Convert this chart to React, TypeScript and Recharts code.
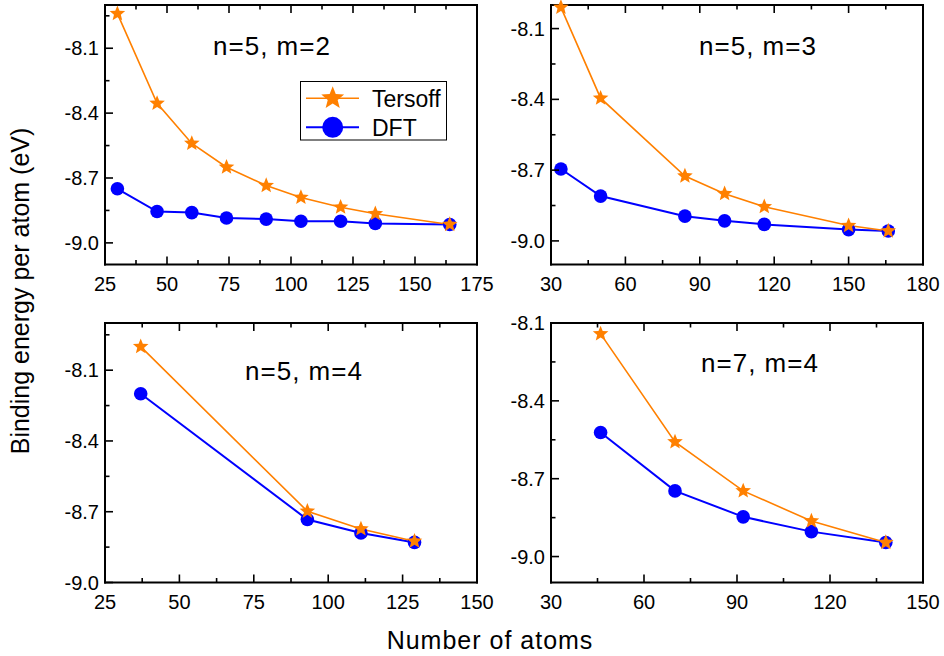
import React from "react";
import { LineChart, Line, XAxis, YAxis } from "recharts";

// Binding energy per atom (eV) vs number of atoms, four (n,m) families
const p1Atoms = [30, 46, 60, 74, 90, 104, 120, 134, 164];
const p1Tersoff = [-7.94, -8.355, -8.54, -8.65, -8.735, -8.79, -8.835, -8.865, -8.915];
const p1Dft = [-8.75, -8.855, -8.86, -8.885, -8.89, -8.9, -8.9, -8.91, -8.915];

const p2Atoms = [34, 50, 84, 100, 116, 150, 166];
const p2Tersoff = [-8.01, -8.395, -8.725, -8.8, -8.855, -8.935, -8.958];
const p2Dft = [-8.695, -8.81, -8.895, -8.915, -8.93, -8.952, -8.958];

const p3Atoms = [37, 93, 111, 129];
const p3Tersoff = [-8.0, -8.698, -8.773, -8.825];
const p3Dft = [-8.2, -8.733, -8.79, -8.83];

const p4Atoms = [46, 70, 92, 114, 138];
const p4Tersoff = [-8.142, -8.558, -8.747, -8.863, -8.946];
const p4Dft = [-8.522, -8.747, -8.847, -8.904, -8.946];

const panelTitles = ["n=5, m=2", "n=5, m=3", "n=5, m=4", "n=7, m=4"];

const x25Major = [25, 50, 75, 100, 125, 150, 175];
const x25Minor = [37.5, 62.5, 87.5, 112.5, 137.5, 162.5];
const x30Major = [30, 60, 90, 120, 150, 180];
const x30Minor = [45, 75, 105, 135, 165];
const yMajor = [-9.0, -8.7, -8.4, -8.1];
const yMinor = [-8.85, -8.55, -8.25, -7.95];

const ORANGE = "#ff8000";
const BLUE = "#0000ff";
const FONT = '"Liberation Sans", Arial, Helvetica, sans-serif';

// axis box sizes around each plot area
const AX_L = 60;
const AX_R = 21;
const AX_T = 15;
const AX_B = 40;

function starPath(cx: number, cy: number, R: number, r: number) {
  const pts: string[] = [];
  for (let i = 0; i < 10; i++) {
    const rad = i % 2 === 0 ? R : r;
    const a = -Math.PI / 2 + (i * Math.PI) / 5;
    pts.push(`${(cx + rad * Math.cos(a)).toFixed(2)},${(cy + rad * Math.sin(a)).toFixed(2)}`);
  }
  return `M${pts.join("L")}Z`;
}

type Side = "bottom" | "top" | "left" | "right";

function makeTick(side: Side, majors: number[], fmt: (v: number) => string) {
  return (props: any) => {
    const { x, y, payload } = props;
    const v = payload.value as number;
    const major = majors.some((m) => Math.abs(m - v) < 1e-6);
    const len = major ? 8 : 4.5;
    const tl = { stroke: "#000", strokeWidth: 1.6 };
    if (side === "bottom")
      return (
        <g>
          <line x1={x} y1={y} x2={x} y2={y - len} {...tl} />
          {major && (
            <text x={x} y={y + 26} textAnchor="middle" fontSize={20} fontFamily={FONT} fill="#000">
              {fmt(v)}
            </text>
          )}
        </g>
      );
    if (side === "left")
      return (
        <g>
          <line x1={x} y1={y} x2={x + len} y2={y} {...tl} />
          {major && (
            <text x={x - 6} y={y + 7} textAnchor="end" fontSize={20} fontFamily={FONT} fill="#000">
              {fmt(v)}
            </text>
          )}
        </g>
      );
    if (side === "top") return <line x1={x} y1={y} x2={x} y2={y + len} {...tl} />;
    return <line x1={x} y1={y} x2={x - len} y2={y} {...tl} />;
  };
}

const fmtX = (v: number) => String(v);
const fmtY = (v: number) => v.toFixed(1);

interface PanelProps {
  atoms: number[];
  tersoff: number[];
  dft: number[];
  xDomain: [number, number];
  xMajor: number[];
  xMinor: number[];
  yDomain: [number, number];
  left: number;
  top: number;
  width: number;
  height: number;
}

function Panel({ atoms, tersoff, dft, xDomain, xMajor, xMinor, yDomain, left, top, width, height }: PanelProps) {
  const data = atoms.map((n, i) => ({ n, tersoff: tersoff[i], dft: dft[i] }));
  const inX = (v: number) => v >= xDomain[0] - 1e-9 && v <= xDomain[1] + 1e-9;
  const inY = (v: number) => v >= yDomain[0] - 1e-9 && v <= yDomain[1] + 1e-9;
  const xMaj = xMajor.filter(inX);
  const xTicks = [...xMaj, ...xMinor.filter(inX)];
  const yMaj = yMajor.filter(inY);
  const yTicks = [...yMaj, ...yMinor.filter(inY)];
  const axisLine = { stroke: "#000", strokeWidth: 2, strokeLinecap: "square" as const };
  const common = { tickSize: 0, tickMargin: 0, tickLine: false, interval: 0 as const, axisLine };

  return (
    <div style={{ position: "absolute", left: left - AX_L, top: top - AX_T }}>
      <LineChart
        width={width + AX_L + AX_R}
        height={height + AX_T + AX_B}
        data={data}
        margin={{ top: 0, right: 0, bottom: 0, left: 0 }}
      >
        <XAxis
          xAxisId="b"
          dataKey="n"
          type="number"
          domain={xDomain}
          ticks={xTicks}
          height={AX_B}
          tick={makeTick("bottom", xMaj, fmtX)}
          {...common}
        />
        <XAxis
          xAxisId="t"
          orientation="top"
          dataKey="n"
          type="number"
          domain={xDomain}
          ticks={xTicks}
          height={AX_T}
          tick={makeTick("top", xMaj, fmtX)}
          {...common}
        />
        <YAxis
          yAxisId="l"
          type="number"
          domain={yDomain}
          ticks={yTicks}
          width={AX_L}
          tick={makeTick("left", yMaj, fmtY)}
          {...common}
        />
        <YAxis
          yAxisId="r"
          orientation="right"
          type="number"
          domain={yDomain}
          ticks={yTicks}
          width={AX_R}
          tick={makeTick("right", yMaj, fmtY)}
          {...common}
        />
        <Line
          xAxisId="b"
          yAxisId="l"
          dataKey="dft"
          type="linear"
          stroke={BLUE}
          strokeWidth={2}
          isAnimationActive={false}
          activeDot={false}
          dot={(p: any) => <circle key={`d${p.index}`} cx={p.cx} cy={p.cy} r={6.8} fill={BLUE} />}
        />
        <Line
          xAxisId="b"
          yAxisId="l"
          dataKey="tersoff"
          type="linear"
          stroke={ORANGE}
          strokeWidth={1.6}
          isAnimationActive={false}
          activeDot={false}
          dot={(p: any) => <path key={`t${p.index}`} d={starPath(p.cx, p.cy, 8.2, 3.6)} fill={ORANGE} />}
        />
      </LineChart>
    </div>
  );
}

export default function App() {
  return (
    <div style={{ position: "absolute", left: 0, top: 0, width: 944, height: 656, background: "#fff", overflow: "hidden" }}>
      <Panel atoms={p1Atoms} tersoff={p1Tersoff} dft={p1Dft} xDomain={[25, 175]} xMajor={x25Major}
        xMinor={x25Minor} yDomain={[-9.1, -7.9]} left={105} top={5} width={372} height={259.5} />
      <Panel atoms={p2Atoms} tersoff={p2Tersoff} dft={p2Dft} xDomain={[30, 180]} xMajor={x30Major}
        xMinor={x30Minor} yDomain={[-9.1, -8.0]} left={551} top={5} width={372} height={259.5} />
      <Panel atoms={p3Atoms} tersoff={p3Tersoff} dft={p3Dft} xDomain={[25, 150]} xMajor={x25Major}
        xMinor={x25Minor} yDomain={[-9.0, -7.9]} left={105} top={323} width={372} height={259.5} />
      <Panel atoms={p4Atoms} tersoff={p4Tersoff} dft={p4Dft} xDomain={[30, 150]} xMajor={x30Major}
        xMinor={x30Minor} yDomain={[-9.1, -8.1]} left={551} top={323} width={372} height={259.5} />

      <svg width={944} height={656} style={{ position: "absolute", left: 0, top: 0, pointerEvents: "none" }}
        fontFamily={FONT} fill="#000">
        <text x={272} y={55} fontSize={26} letterSpacing={1} textAnchor="middle">{panelTitles[0]}</text>
        <text x={758} y={55} fontSize={26} letterSpacing={1} textAnchor="middle">{panelTitles[1]}</text>
        <text x={304} y={380} fontSize={26} letterSpacing={1} textAnchor="middle">{panelTitles[2]}</text>
        <text x={760} y={372} fontSize={26} letterSpacing={1} textAnchor="middle">{panelTitles[3]}</text>

        <text x={490} y={649} fontSize={25} letterSpacing={1} textAnchor="middle">Number of atoms</text>
        <text transform="translate(29,291) rotate(-90)" fontSize={25} textAnchor="middle">
          Binding energy per atom (eV)
        </text>

        {/* legend */}
        <rect x={300.5} y={81.5} width={146} height={58.5} fill="#fff" stroke="#000" strokeWidth={1} />
        <line x1={306} y1={98.3} x2={359} y2={98.3} stroke={ORANGE} strokeWidth={1.6} />
        <path d={starPath(332.7, 98.3, 12, 5.2)} fill={ORANGE} />
        <text x={372} y={107} fontSize={23}>Tersoff</text>
        <line x1={306} y1={127.3} x2={359} y2={127.3} stroke={BLUE} strokeWidth={2} />
        <circle cx={332.7} cy={127.3} r={10.5} fill={BLUE} />
        <text x={372} y={135.5} fontSize={23}>DFT</text>
      </svg>
    </div>
  );
}
